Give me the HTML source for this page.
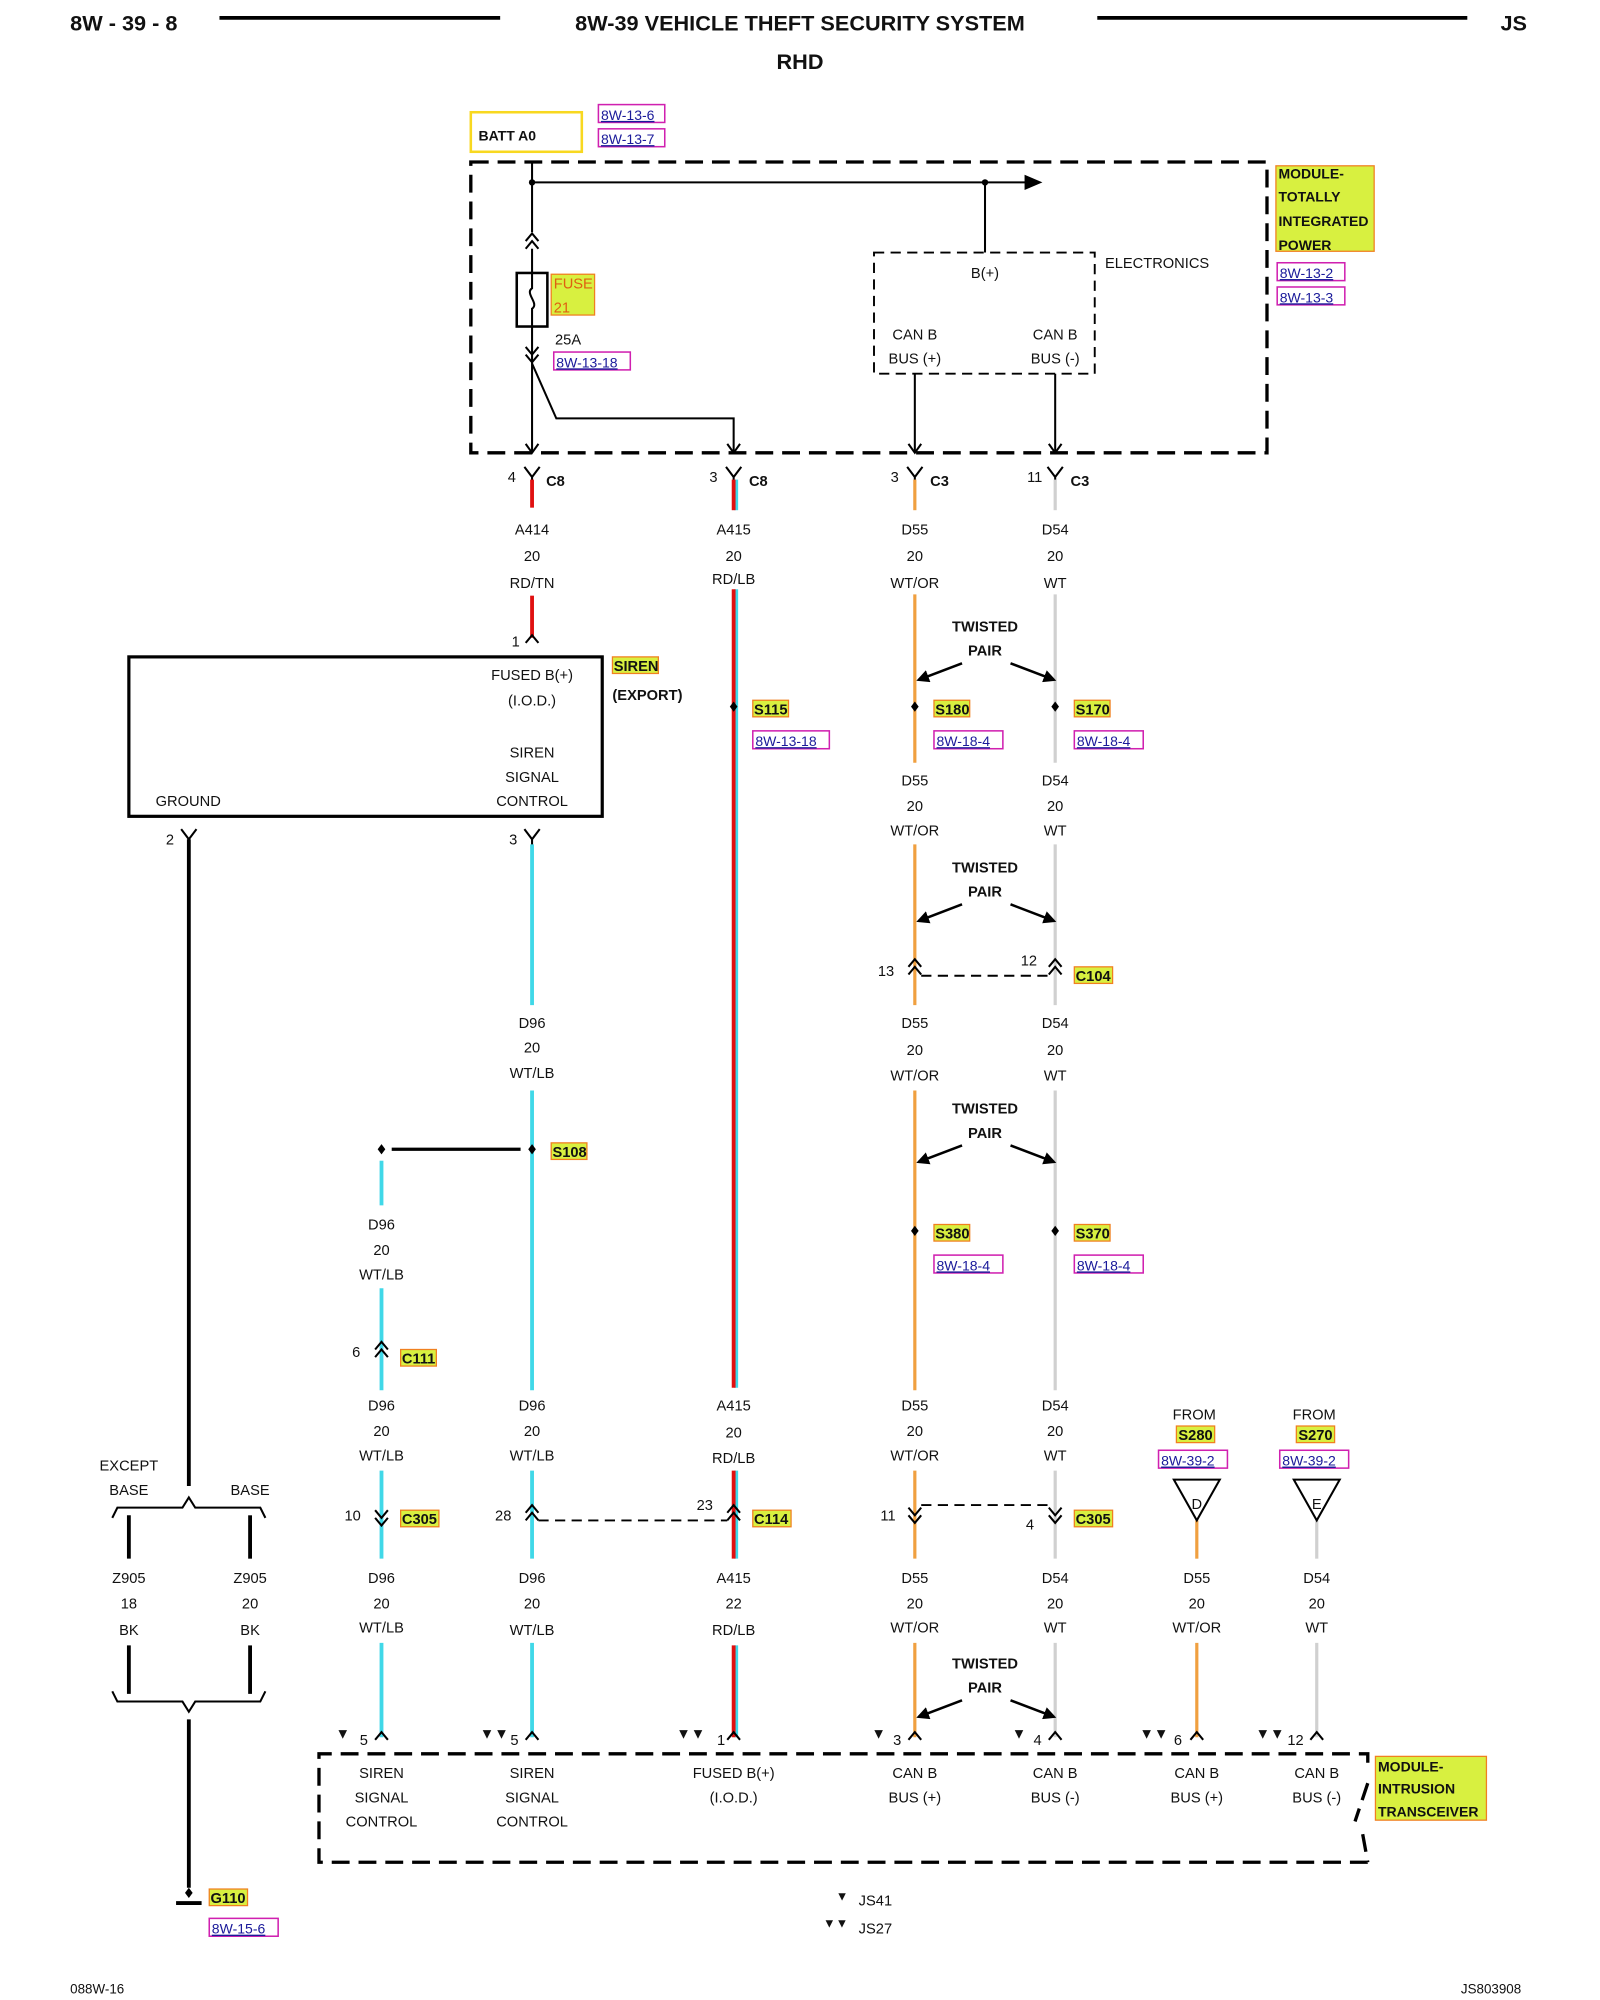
<!DOCTYPE html>
<html><head><meta charset="utf-8"><style>
html,body{margin:0;padding:0;background:#fff}
svg{display:block}
text{font-family:"Liberation Sans",sans-serif;font-size:11.5px;fill:#111}
.b{font-weight:bold}
.h{font-weight:bold;font-size:17px}
.c{text-anchor:middle}
.ref{fill:#1a1a9a;font-size:11px;text-decoration:underline}
.k{stroke:#000;stroke-width:1.6;fill:none}
.d{stroke:#000;stroke-width:2.6;fill:none;stroke-dasharray:14,7}
.ds{stroke:#000;stroke-width:1.5;fill:none;stroke-dasharray:8,5}
.red{stroke:#e01010;stroke-width:3}
.cy{stroke:#40d8e8;stroke-width:3}
.or{stroke:#f0a040;stroke-width:2.5}
.gr{stroke:#d0d0d0;stroke-width:2.5}
.y{fill:#d8f040;stroke:#f08020;stroke-width:1}
.rb{fill:none;stroke:#d020b0;stroke-width:1.2}
</style></head><body>
<svg width="1600" height="2000" viewBox="0 0 1254 1568" preserveAspectRatio="none" xmlns="http://www.w3.org/2000/svg">
<defs>
<marker id="ar" markerWidth="10" markerHeight="10" refX="8" refY="5" orient="auto" markerUnits="userSpaceOnUse"><path d="M0,0 L10,5 L0,10 z" fill="#000"/></marker>
<g id="fy"><path d="M-6,-8 L0,0 L6,-8 M0,0 V4" class="k"/></g>
<g id="up"><path d="M-5,6 L0,0 L5,6" class="k"/></g>
<g id="du"><path d="M-5,6 L0,0 L5,6 M-5,12 L0,6 L5,12" class="k"/></g>
<g id="dd"><path d="M-5,-6 L0,0 L5,-6 M-5,-12 L0,-6 L5,-12" class="k"/></g>
<g id="dot"><path d="M0,-4 L3,0 L0,4 L-3,0z" fill="#000"/></g>
<g id="tp"><text x="0" y="0" class="b c">TWISTED</text><text x="0" y="19" class="b c">PAIR</text>
<line x1="-18" y1="25" x2="-52" y2="38" stroke="#000" stroke-width="2" marker-end="url(#ar)"/>
<line x1="20" y1="25" x2="54" y2="38" stroke="#000" stroke-width="2" marker-end="url(#ar)"/></g>
</defs>

<!-- header -->
<text x="55" y="24" class="h">8W - 39 - 8</text>
<line x1="172" y1="14" x2="392" y2="14" stroke="#000" stroke-width="3"/>
<text x="627" y="24" class="h c">8W-39 VEHICLE THEFT SECURITY SYSTEM</text>
<line x1="860" y1="14" x2="1150" y2="14" stroke="#000" stroke-width="3"/>
<text x="1176" y="24" class="h">JS</text>
<text x="627" y="54" class="h c">RHD</text>

<!-- BATT -->
<rect x="369" y="88" width="87" height="31" fill="none" stroke="#f8d820" stroke-width="2"/>
<text x="375" y="110" class="b" style="font-size:11px">BATT A0</text>
<rect x="469" y="82" width="52" height="14" class="rb"/><text x="471" y="94" class="ref">8W-13-6</text>
<rect x="469" y="101" width="52" height="14" class="rb"/><text x="471" y="113" class="ref">8W-13-7</text>

<!-- TIPM -->
<rect x="369" y="127" width="624" height="228" class="d"/>
<rect x="1000" y="130" width="77" height="67" class="y"/>
<text x="1002" y="140" class="b" style="font-size:11px">MODULE-</text>
<text x="1002" y="158" class="b" style="font-size:11px">TOTALLY</text>
<text x="1002" y="177" class="b" style="font-size:11px">INTEGRATED</text>
<text x="1002" y="196" class="b" style="font-size:11px">POWER</text>
<rect x="1001" y="206" width="53" height="14" class="rb"/><text x="1003" y="218" class="ref">8W-13-2</text>
<rect x="1001" y="225" width="53" height="14" class="rb"/><text x="1003" y="237" class="ref">8W-13-3</text>
<line x1="417" y1="127" x2="417" y2="182" class="k"/>
<line x1="417" y1="143" x2="805" y2="143" class="k"/>
<path d="M803,137 L817,143 L803,149z" fill="#000"/>
<circle cx="417" cy="143" r="2.5"/><circle cx="772" cy="143" r="2.5"/>
<line x1="772" y1="143" x2="772" y2="198" class="k"/>
<rect x="685" y="198" width="173" height="95" class="ds"/>
<text x="866" y="210">ELECTRONICS</text>
<text x="772" y="218" class="c">B(+)</text>
<text x="717" y="266" class="c">CAN B</text><text x="717" y="285" class="c">BUS (+)</text>
<text x="827" y="266" class="c">CAN B</text><text x="827" y="285" class="c">BUS (-)</text>
<line x1="717" y1="293" x2="717" y2="355" class="k"/><line x1="827" y1="293" x2="827" y2="355" class="k"/>
<path d="M712,348 L717,355 L722,348 M822,348 L827,355 L832,348" class="k"/>
<use href="#du" x="417" y="183"/>
<line x1="417" y1="195" x2="417" y2="214" class="k"/>
<rect x="405" y="214" width="24" height="42" fill="none" stroke="#000" stroke-width="2"/>
<path d="M417,214 V226 C411,230 423,238 417,242 V256" class="k"/>
<rect x="432" y="215" width="34" height="32" class="y"/>
<text x="434" y="226" style="fill:#e06010">FUSE</text><text x="434" y="245" style="fill:#e06010">21</text>
<text x="435" y="270">25A</text>
<rect x="434" y="276" width="60" height="14" class="rb"/><text x="436" y="288" class="ref">8W-13-18</text>
<line x1="417" y1="256" x2="417" y2="355" class="k"/>
<use href="#dd" x="417" y="284"/>
<path d="M417,285 L436,328 H575 V355" class="k"/>
<path d="M412,348 L417,355 L422,348 M570,348 L575,355 L580,348" class="k"/>

<!-- connectors C8/C3 -->
<use href="#fy" x="417" y="374"/><use href="#fy" x="575" y="374"/><use href="#fy" x="717" y="374"/><use href="#fy" x="827" y="374"/>
<text x="398" y="378">4</text><text x="428" y="381" class="b">C8</text>
<text x="556" y="378">3</text><text x="587" y="381" class="b">C8</text>
<text x="698" y="378">3</text><text x="729" y="381" class="b">C3</text>
<text x="805" y="378">11</text><text x="839" y="381" class="b">C3</text>

<!-- wires -->
<line x1="417" y1="376" x2="417" y2="398" class="red"/>
<line x1="417" y1="467" x2="417" y2="500" class="red"/>
<line x1="577" y1="376" x2="577" y2="400" class="cy"/><line x1="575" y1="376" x2="575" y2="400" class="red"/>
<line x1="577" y1="462" x2="577" y2="1088" class="cy"/><line x1="575" y1="462" x2="575" y2="1088" class="red"/>
<line x1="577" y1="1153" x2="577" y2="1222" class="cy"/><line x1="575" y1="1153" x2="575" y2="1222" class="red"/>
<line x1="577" y1="1290" x2="577" y2="1362" class="cy"/><line x1="575" y1="1290" x2="575" y2="1362" class="red"/>
<g class="or"><line x1="717" y1="376" x2="717" y2="400"/><line x1="717" y1="466" x2="717" y2="598"/><line x1="717" y1="662" x2="717" y2="788"/><line x1="717" y1="855" x2="717" y2="1090"/><line x1="717" y1="1153" x2="717" y2="1222"/><line x1="717" y1="1288" x2="717" y2="1362"/>
<line x1="938" y1="1192" x2="938" y2="1222"/><line x1="938" y1="1288" x2="938" y2="1362"/></g>
<g class="gr"><line x1="827" y1="376" x2="827" y2="400"/><line x1="827" y1="466" x2="827" y2="598"/><line x1="827" y1="662" x2="827" y2="788"/><line x1="827" y1="855" x2="827" y2="1090"/><line x1="827" y1="1153" x2="827" y2="1222"/><line x1="827" y1="1288" x2="827" y2="1362"/>
<line x1="1032" y1="1192" x2="1032" y2="1222"/><line x1="1032" y1="1288" x2="1032" y2="1362"/></g>
<g class="cy"><line x1="417" y1="662" x2="417" y2="788"/><line x1="417" y1="855" x2="417" y2="1090"/><line x1="417" y1="1153" x2="417" y2="1222"/><line x1="417" y1="1288" x2="417" y2="1362"/>
<line x1="299" y1="910" x2="299" y2="945"/><line x1="299" y1="1010" x2="299" y2="1090"/><line x1="299" y1="1153" x2="299" y2="1222"/><line x1="299" y1="1288" x2="299" y2="1362"/></g>

<!-- wire labels row 1 -->
<g class="c">
<text x="417" y="419">A414</text><text x="417" y="440">20</text><text x="417" y="461">RD/TN</text>
<text x="575" y="419">A415</text><text x="575" y="440">20</text><text x="575" y="458">RD/LB</text>
<text x="717" y="419">D55</text><text x="717" y="440">20</text><text x="717" y="461">WT/OR</text>
<text x="827" y="419">D54</text><text x="827" y="440">20</text><text x="827" y="461">WT</text>
<text x="717" y="616">D55</text><text x="717" y="636">20</text><text x="717" y="655">WT/OR</text>
<text x="827" y="616">D54</text><text x="827" y="636">20</text><text x="827" y="655">WT</text>
<text x="417" y="806">D96</text><text x="417" y="825">20</text><text x="417" y="845">WT/LB</text>
<text x="717" y="806">D55</text><text x="717" y="827">20</text><text x="717" y="847">WT/OR</text>
<text x="827" y="806">D54</text><text x="827" y="827">20</text><text x="827" y="847">WT</text>
<text x="299" y="964">D96</text><text x="299" y="984">20</text><text x="299" y="1003">WT/LB</text>
<text x="299" y="1106">D96</text><text x="299" y="1126">20</text><text x="299" y="1145">WT/LB</text>
<text x="417" y="1106">D96</text><text x="417" y="1126">20</text><text x="417" y="1145">WT/LB</text>
<text x="575" y="1106">A415</text><text x="575" y="1127">20</text><text x="575" y="1147">RD/LB</text>
<text x="717" y="1106">D55</text><text x="717" y="1126">20</text><text x="717" y="1145">WT/OR</text>
<text x="827" y="1106">D54</text><text x="827" y="1126">20</text><text x="827" y="1145">WT</text>
<text x="101" y="1241">Z905</text><text x="101" y="1261">18</text><text x="101" y="1282">BK</text>
<text x="196" y="1241">Z905</text><text x="196" y="1261">20</text><text x="196" y="1282">BK</text>
<text x="299" y="1241">D96</text><text x="299" y="1261">20</text><text x="299" y="1280">WT/LB</text>
<text x="417" y="1241">D96</text><text x="417" y="1261">20</text><text x="417" y="1282">WT/LB</text>
<text x="575" y="1241">A415</text><text x="575" y="1261">22</text><text x="575" y="1282">RD/LB</text>
<text x="717" y="1241">D55</text><text x="717" y="1261">20</text><text x="717" y="1280">WT/OR</text>
<text x="827" y="1241">D54</text><text x="827" y="1261">20</text><text x="827" y="1280">WT</text>
<text x="938" y="1241">D55</text><text x="938" y="1261">20</text><text x="938" y="1280">WT/OR</text>
<text x="1032" y="1241">D54</text><text x="1032" y="1261">20</text><text x="1032" y="1280">WT</text>
</g>

<!-- twisted pairs -->
<use href="#tp" x="772" y="495"/><use href="#tp" x="772" y="684"/><use href="#tp" x="772" y="873"/><use href="#tp" x="772" y="1308"/>

<!-- siren -->
<use href="#up" x="417" y="498"/><text x="401" y="507">1</text>
<rect x="101" y="515" width="371" height="125" fill="none" stroke="#000" stroke-width="2.5"/>
<g class="c"><text x="417" y="533">FUSED B(+)</text><text x="417" y="553">(I.O.D.)</text>
<text x="417" y="594">SIREN</text><text x="417" y="613">SIGNAL</text><text x="417" y="632">CONTROL</text></g>
<text x="122" y="632">GROUND</text>
<rect x="480" y="515" width="36" height="13" class="y"/><text x="481" y="526" class="b">SIREN</text>
<text x="480" y="549" class="b">(EXPORT)</text>
<use href="#fy" x="148" y="658"/><text x="130" y="662">2</text>
<use href="#fy" x="417" y="658"/><text x="399" y="662">3</text>
<line x1="148" y1="658" x2="148" y2="1165" stroke="#000" stroke-width="3"/>

<!-- splices -->
<use href="#dot" x="575" y="554"/><rect x="590" y="549" width="28" height="13" class="y"/><text x="591" y="560" class="b">S115</text>
<rect x="590" y="573" width="60" height="14" class="rb"/><text x="592" y="585" class="ref">8W-13-18</text>
<use href="#dot" x="717" y="554"/><rect x="732" y="549" width="28" height="13" class="y"/><text x="733" y="560" class="b">S180</text>
<rect x="732" y="573" width="54" height="14" class="rb"/><text x="734" y="585" class="ref">8W-18-4</text>
<use href="#dot" x="827" y="554"/><rect x="842" y="549" width="28" height="13" class="y"/><text x="843" y="560" class="b">S170</text>
<rect x="842" y="573" width="54" height="14" class="rb"/><text x="844" y="585" class="ref">8W-18-4</text>
<use href="#dot" x="717" y="965"/><rect x="732" y="960" width="28" height="13" class="y"/><text x="733" y="971" class="b">S380</text>
<rect x="732" y="984" width="54" height="14" class="rb"/><text x="734" y="996" class="ref">8W-18-4</text>
<use href="#dot" x="827" y="965"/><rect x="842" y="960" width="28" height="13" class="y"/><text x="843" y="971" class="b">S370</text>
<rect x="842" y="984" width="54" height="14" class="rb"/><text x="844" y="996" class="ref">8W-18-4</text>
<use href="#dot" x="417" y="901"/><use href="#dot" x="299" y="901"/>
<line x1="307" y1="901" x2="408" y2="901" stroke="#000" stroke-width="2.5"/>
<rect x="432" y="896" width="28" height="13" class="y"/><text x="433" y="907" class="b">S108</text>

<!-- C104 -->
<use href="#du" x="717" y="752"/><use href="#du" x="827" y="752"/>
<path d="M722,765 H822" class="ds"/>
<text x="688" y="765">13</text><text x="800" y="757">12</text>
<rect x="842" y="758" width="30" height="13" class="y"/><text x="843" y="769" class="b">C104</text>

<!-- C111 -->
<use href="#du" x="299" y="1052"/><text x="276" y="1064">6</text>
<rect x="314" y="1058" width="28" height="13" class="y"/><text x="315" y="1069" class="b">C111</text>

<!-- C305/C114 row -->
<use href="#dd" x="299" y="1196"/><text x="270" y="1192">10</text>
<rect x="314" y="1184" width="30" height="13" class="y"/><text x="315" y="1195" class="b">C305</text>
<use href="#du" x="417" y="1180"/><text x="388" y="1192">28</text>
<path d="M422,1192 H570" class="ds"/>
<use href="#du" x="575" y="1180"/><text x="546" y="1184">23</text>
<rect x="590" y="1184" width="30" height="13" class="y"/><text x="591" y="1195" class="b">C114</text>
<use href="#dd" x="717" y="1194"/><text x="690" y="1192">11</text>
<path d="M722,1180 H822" class="ds"/>
<use href="#dd" x="827" y="1194"/><text x="804" y="1199">4</text>
<rect x="842" y="1184" width="30" height="13" class="y"/><text x="843" y="1195" class="b">C305</text>

<!-- FROM -->
<g class="c"><text x="936" y="1113">FROM</text><text x="1030" y="1113">FROM</text></g>
<rect x="922" y="1118" width="30" height="13" class="y"/><text x="937" y="1129" class="b c">S280</text>
<rect x="1016" y="1118" width="30" height="13" class="y"/><text x="1031" y="1129" class="b c">S270</text>
<rect x="908" y="1137" width="54" height="14" class="rb"/><text x="910" y="1149" class="ref">8W-39-2</text>
<rect x="1003" y="1137" width="54" height="14" class="rb"/><text x="1005" y="1149" class="ref">8W-39-2</text>
<path d="M920,1160 H956 L938,1192z" class="k"/><text x="938" y="1183" class="c">D</text>
<path d="M1014,1160 H1050 L1032,1192z" class="k"/><text x="1032" y="1183" class="c">E</text>

<!-- ground brace -->
<text x="101" y="1153" class="c">EXCEPT</text>
<text x="101" y="1172" class="c">BASE</text><text x="196" y="1172" class="c">BASE</text>
<path d="M88,1190 L92,1182 H143 L148,1174 L153,1182 H204 L208,1190" class="k"/>
<line x1="101" y1="1188" x2="101" y2="1222" stroke="#000" stroke-width="3"/>
<line x1="196" y1="1188" x2="196" y2="1222" stroke="#000" stroke-width="3"/>
<line x1="101" y1="1290" x2="101" y2="1328" stroke="#000" stroke-width="3"/>
<line x1="196" y1="1290" x2="196" y2="1328" stroke="#000" stroke-width="3"/>
<path d="M88,1326 L92,1334 H143 L148,1342 L153,1334 H204 L208,1326" class="k"/>
<line x1="148" y1="1348" x2="148" y2="1480" stroke="#000" stroke-width="3"/>
<use href="#dot" x="148" y="1484"/>
<line x1="138" y1="1492" x2="158" y2="1492" stroke="#000" stroke-width="3"/>
<rect x="164" y="1481" width="30" height="13" class="y"/><text x="165" y="1492" class="b">G110</text>
<rect x="164" y="1504" width="54" height="14" class="rb"/><text x="166" y="1516" class="ref">8W-15-6</text>

<!-- bottom connectors -->
<g style="font-size:10px">
<text x="263" y="1363">▼</text><text x="376" y="1363">▼▼</text><text x="530" y="1363">▼▼</text>
<text x="683" y="1363">▼</text><text x="793" y="1363">▼</text><text x="893" y="1363">▼▼</text><text x="984" y="1363">▼▼</text>
</g>
<text x="282" y="1368">5</text><use href="#up" x="299" y="1358"/>
<text x="400" y="1368">5</text><use href="#up" x="417" y="1358"/>
<text x="562" y="1368">1</text><use href="#up" x="575" y="1358"/>
<text x="700" y="1368">3</text><use href="#up" x="717" y="1358"/>
<text x="810" y="1368">4</text><use href="#up" x="827" y="1358"/>
<text x="920" y="1368">6</text><use href="#up" x="938" y="1358"/>
<text x="1009" y="1368">12</text><use href="#up" x="1032" y="1358"/>

<!-- bottom module -->
<path d="M1072,1460 H250 V1375 H1072 L1072,1382 M1072,1398 L1062,1428 M1068,1438 L1072,1460" class="d"/>
<rect x="1078" y="1377" width="87" height="50" class="y"/>
<text x="1080" y="1389" class="b" style="font-size:11px">MODULE-</text>
<text x="1080" y="1406" class="b" style="font-size:11px">INTRUSION</text>
<text x="1080" y="1424" class="b" style="font-size:11px">TRANSCEIVER</text>
<g class="c">
<text x="299" y="1394">SIREN</text><text x="299" y="1413">SIGNAL</text><text x="299" y="1432">CONTROL</text>
<text x="417" y="1394">SIREN</text><text x="417" y="1413">SIGNAL</text><text x="417" y="1432">CONTROL</text>
<text x="575" y="1394">FUSED B(+)</text><text x="575" y="1413">(I.O.D.)</text>
<text x="717" y="1394">CAN B</text><text x="717" y="1413">BUS (+)</text>
<text x="827" y="1394">CAN B</text><text x="827" y="1413">BUS (-)</text>
<text x="938" y="1394">CAN B</text><text x="938" y="1413">BUS (+)</text>
<text x="1032" y="1394">CAN B</text><text x="1032" y="1413">BUS (-)</text>
</g>
<text x="655" y="1490" style="font-size:10px">▼</text><text x="673" y="1494">JS41</text>
<text x="645" y="1511" style="font-size:10px">▼▼</text><text x="673" y="1516">JS27</text>
<text x="55" y="1563" style="font-size:10.5px">088W-16</text>
<text x="1145" y="1563" style="font-size:10.5px">JS803908</text>
</svg>
</body></html>
